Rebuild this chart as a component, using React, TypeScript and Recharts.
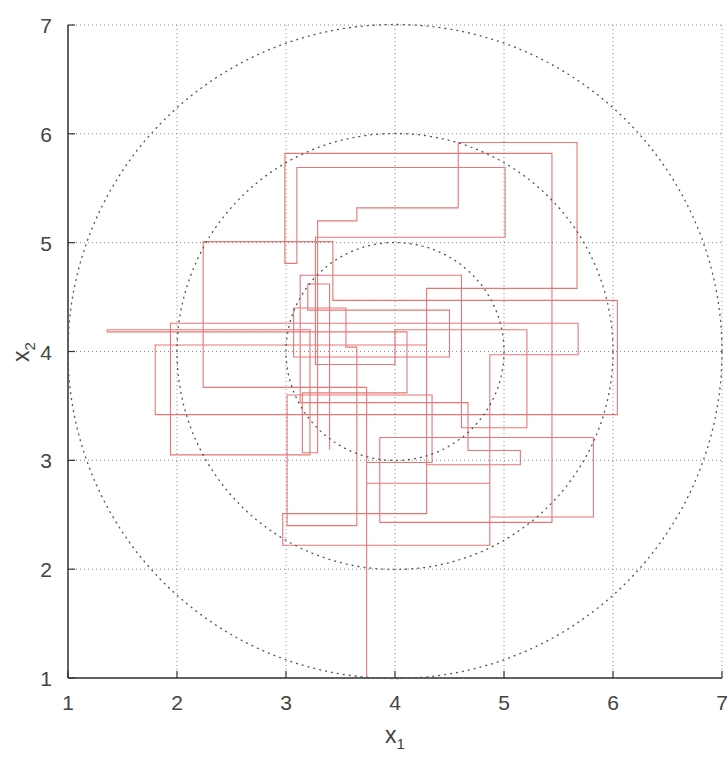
import React from 'react';
import {
  ComposedChart,
  Line,
  XAxis,
  YAxis,
  CartesianGrid,
  ReferenceDot,
} from 'recharts';

// axis ticks
const ticks = [1, 2, 3, 4, 5, 6, 7];

// dotted reference circles around (4, 4)
const circleCenter = { x: 4, y: 4 };
const circleRadii = [1, 2, 3];

// sampler trajectory (alternating x and y moves)
const pathX = [
  3.74, 3.74, 2.24, 2.24, 3.43, 3.43, 6.04, 6.04, 1.8, 1.8, 4.29, 4.29,
  2.97, 2.97, 4.87, 4.87, 5.68, 5.68, 1.94, 1.94, 3.22, 3.22, 1.36, 1.36,
  4.11, 4.11, 3.15, 3.15, 3.29, 3.29, 3.65, 3.65, 4.58, 4.58, 5.67, 5.67,
  4.29, 4.29, 5.15, 5.15, 4.67, 4.67, 3.13, 3.13, 4.61, 4.61, 5.21, 5.21,
  4.0, 4.0, 3.27, 3.27, 5.01, 5.01, 3.1, 3.1, 2.99, 2.99, 5.44, 5.44,
  3.86, 3.86, 5.82, 5.82, 4.87, 4.87, 3.74, 3.74, 4.34, 4.34, 3.01, 3.01,
  3.65, 3.65, 3.55, 3.55, 3.07, 3.07, 4.5, 4.5, 3.2, 3.2, 3.4, 3.4,
];
const pathY = [
  1.0, 3.67, 3.67, 5.01, 5.01, 4.47, 4.47, 3.42, 3.42, 4.06, 4.06, 2.51,
  2.51, 2.22, 2.22, 3.97, 3.97, 4.26, 4.26, 3.05, 3.05, 4.2, 4.2, 4.18,
  4.18, 3.62, 3.62, 3.07, 3.07, 5.2, 5.2, 5.32, 5.32, 5.92, 5.92, 4.58,
  4.58, 2.96, 2.96, 3.09, 3.09, 3.53, 3.53, 4.7, 4.7, 3.3, 3.3, 4.2,
  4.2, 3.88, 3.88, 5.05, 5.05, 5.69, 5.69, 4.81, 4.81, 5.82, 5.82, 2.43,
  2.43, 3.21, 3.21, 2.48, 2.48, 2.79, 2.79, 2.98, 2.98, 3.6, 3.6, 2.4,
  2.4, 4.04, 4.04, 4.4, 4.4, 3.95, 3.95, 4.38, 4.38, 4.62, 4.62, 3.1,
];

const data = pathX.map((x, i) => ({ x, y: pathY[i] }));

const W = 728;
const H = 757;
const MARGIN = { top: 25, right: 6, bottom: 39, left: 18 };
const Y_AXIS_W = 50;
const X_AXIS_H = 40;
const PLOT_W = W - MARGIN.left - MARGIN.right - Y_AXIS_W;
const PX_PER_UNIT = PLOT_W / (ticks[ticks.length - 1] - ticks[0]);

const FONT = '"Liberation Sans", Arial, sans-serif';
const TICK_LEN = 7;

const BottomTick = ({ x, y, payload }: any) => (
  <g>
    <line x1={x} y1={y} x2={x} y2={y - TICK_LEN} stroke="#333" strokeWidth={1.2} />
    <text x={x} y={y + 32} textAnchor="middle" fontSize={21} fill="#444" fontFamily={FONT}>
      {payload.value}
    </text>
  </g>
);

const TopTick = ({ x, y }: any) => (
  <line x1={x} y1={y} x2={x} y2={y + TICK_LEN} stroke="#333" strokeWidth={1.2} />
);

const LeftTick = ({ x, y, payload }: any) => (
  <g>
    <line x1={x} y1={y} x2={x + TICK_LEN} y2={y} stroke="#333" strokeWidth={1.2} />
    <text x={x - 16} y={y + 8} textAnchor="end" fontSize={21} fill="#444" fontFamily={FONT}>
      {payload.value}
    </text>
  </g>
);

const RightTick = ({ x, y }: any) => (
  <line x1={x} y1={y} x2={x - TICK_LEN} y2={y} stroke="#333" strokeWidth={1.2} />
);

export default function App() {
  return (
    <div style={{ position: 'absolute', left: 0, top: 0, width: W, height: H, background: '#fff' }}>
      <ComposedChart width={W} height={H} data={data} margin={MARGIN}>
        <CartesianGrid xAxisId="b" yAxisId="l" stroke="#888" strokeDasharray="1 3" />
        <XAxis
          xAxisId="b"
          dataKey="x"
          type="number"
          domain={[1, 7]}
          ticks={ticks}
          allowDataOverflow
          height={X_AXIS_H}
          tickSize={0}
          tickMargin={0}
          tickLine={false}
          axisLine={{ stroke: '#333', strokeWidth: 1.5 }}
          tick={<BottomTick />}
        />
        <XAxis
          xAxisId="t"
          orientation="top"
          type="number"
          domain={[1, 7]}
          ticks={ticks}
          height={0}
          tickSize={0}
          tickLine={false}
          axisLine={{ stroke: '#333', strokeWidth: 1.5 }}
          tick={<TopTick />}
        />
        <YAxis
          yAxisId="l"
          type="number"
          domain={[1, 7]}
          ticks={ticks}
          allowDataOverflow
          width={Y_AXIS_W}
          tickSize={0}
          tickMargin={0}
          tickLine={false}
          axisLine={{ stroke: '#333', strokeWidth: 1.5 }}
          tick={<LeftTick />}
        />
        <YAxis
          yAxisId="r"
          orientation="right"
          type="number"
          domain={[1, 7]}
          ticks={ticks}
          width={0}
          tickSize={0}
          tickLine={false}
          axisLine={{ stroke: '#333', strokeWidth: 1.5 }}
          tick={<RightTick />}
        />
        {circleRadii.map((r) => (
          <ReferenceDot
            key={r}
            xAxisId="b"
            yAxisId="l"
            x={circleCenter.x}
            y={circleCenter.y}
            ifOverflow="visible"
            shape={(p: any) => (
              <circle
                cx={p.cx}
                cy={p.cy}
                r={r * PX_PER_UNIT}
                fill="none"
                stroke="#555"
                strokeWidth={1.3}
                strokeDasharray="2 4"
              />
            )}
          />
        ))}
        <Line
          xAxisId="b"
          yAxisId="l"
          dataKey="y"
          type="linear"
          stroke="#e04848"
          strokeOpacity={0.75}
          strokeWidth={1.1}
          dot={false}
          activeDot={false}
          isAnimationActive={false}
        />
      </ComposedChart>
      <div
        style={{
          position: 'absolute',
          left: 0,
          top: 722,
          width: 790,
          textAlign: 'center',
          fontFamily: FONT,
          fontSize: 23,
          color: '#444',
        }}
      >
        x<sub style={{ fontSize: 15 }}>1</sub>
      </div>
      <div
        style={{
          position: 'absolute',
          left: 8,
          top: 352,
          transform: 'translate(-50%, -50%) rotate(-90deg) translate(0, 50%)',
          transformOrigin: 'center',
          fontFamily: FONT,
          fontSize: 23,
          color: '#444',
          whiteSpace: 'nowrap',
        }}
      >
        x<sub style={{ fontSize: 15 }}>2</sub>
      </div>
    </div>
  );
}
